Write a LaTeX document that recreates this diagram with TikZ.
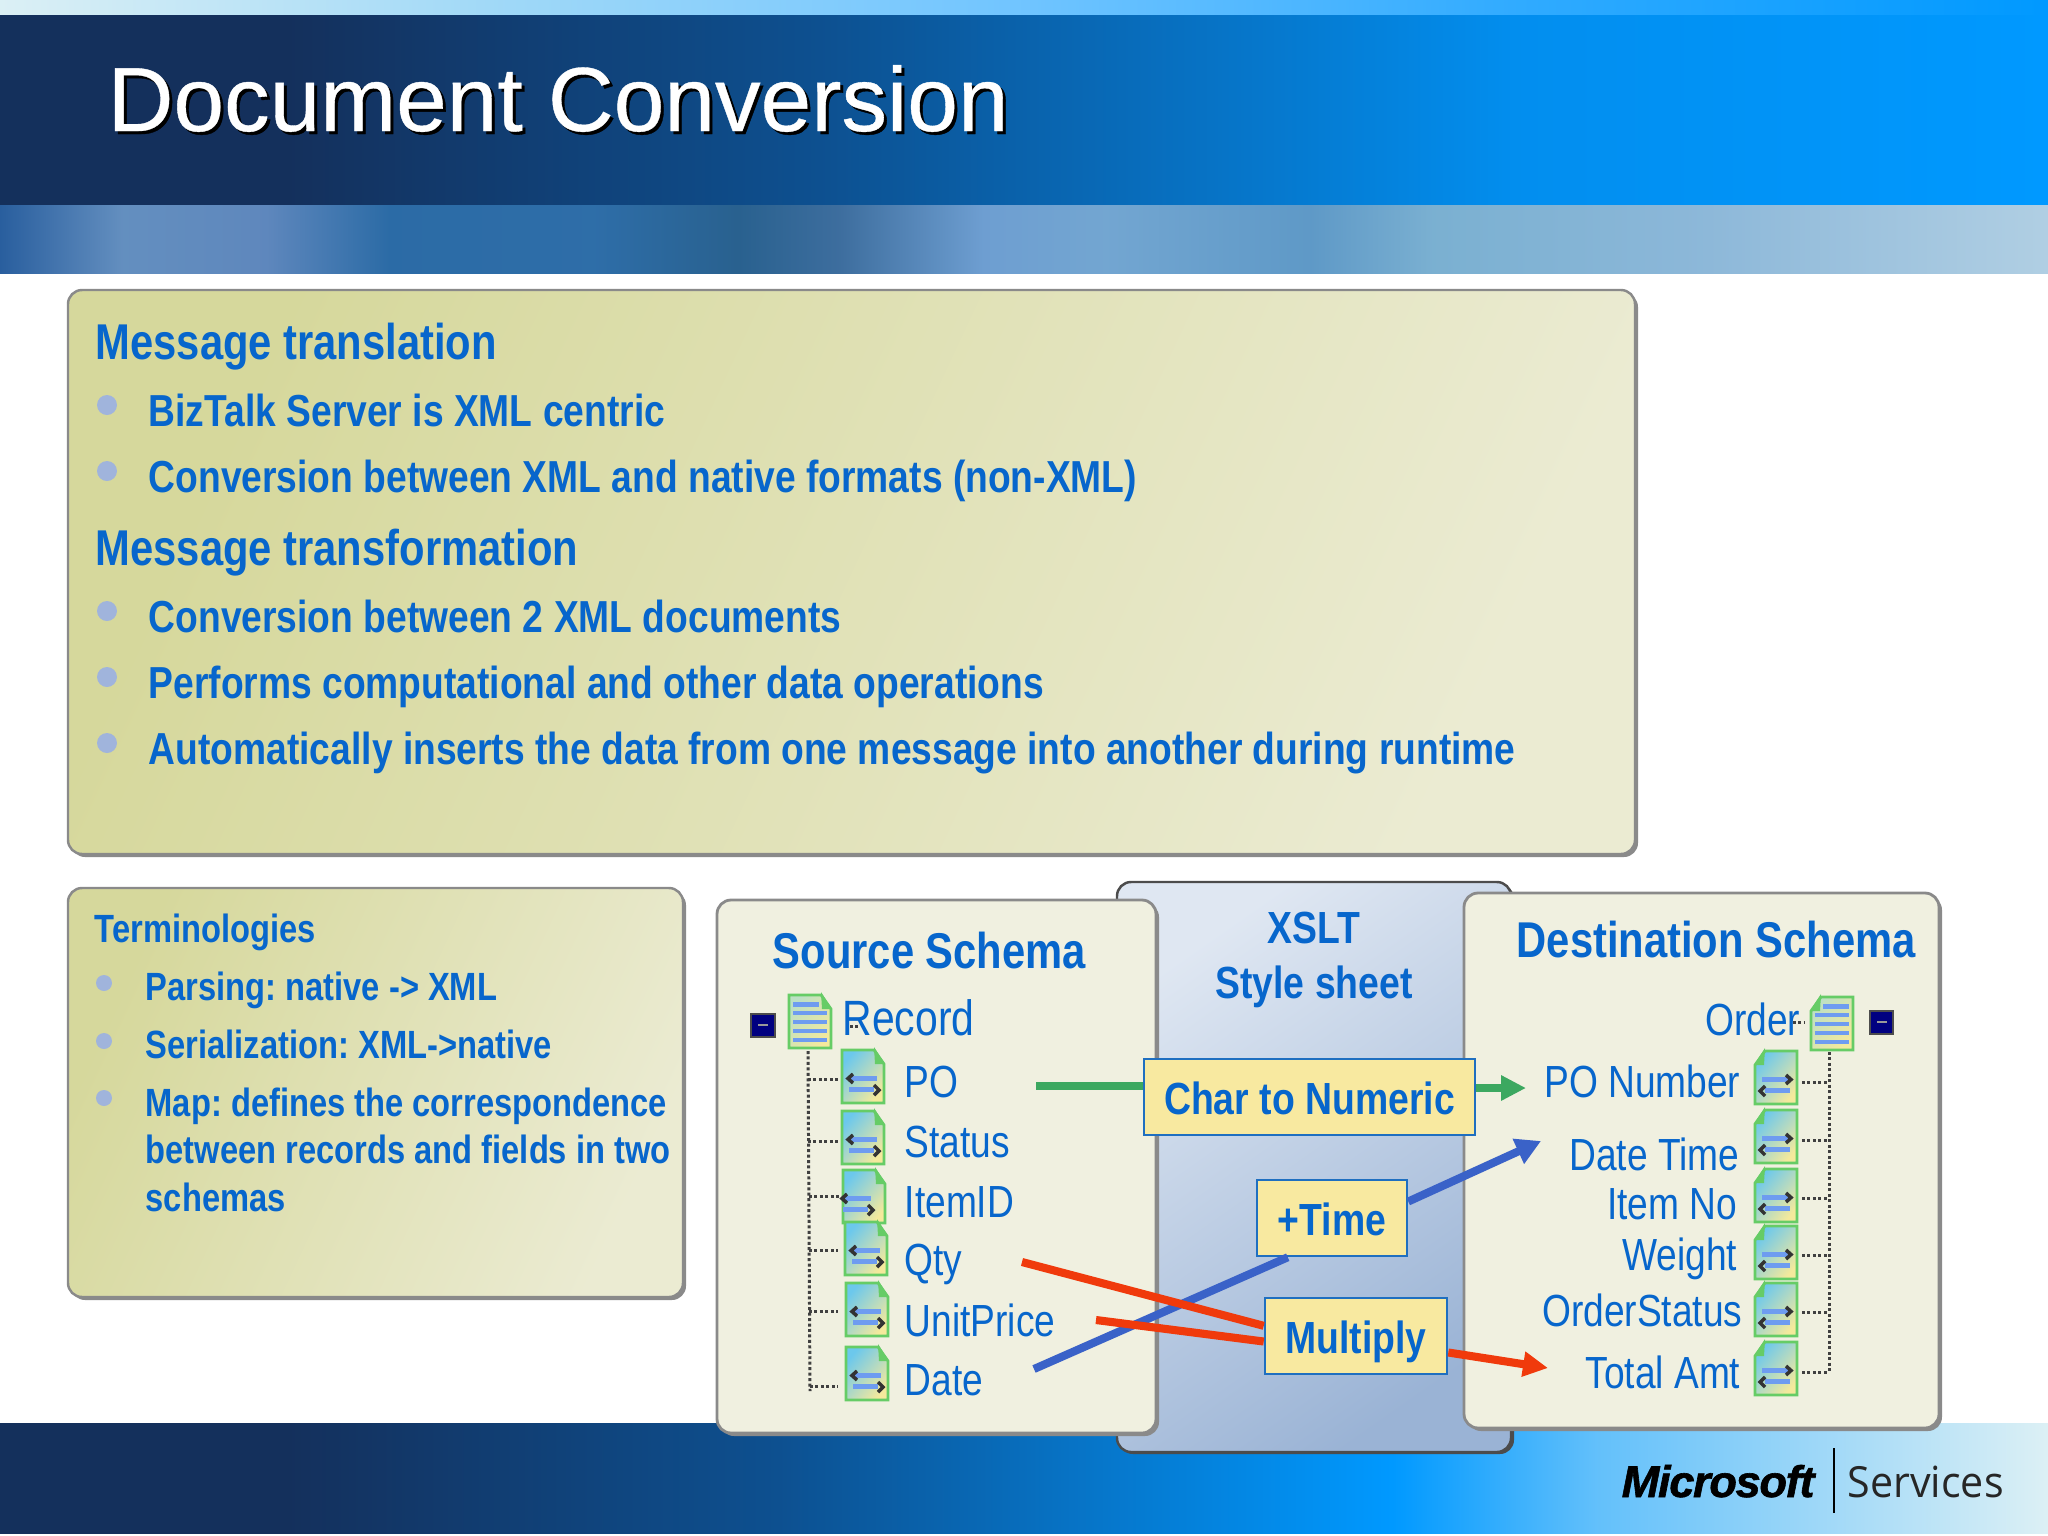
\documentclass[tikz,border=0pt]{standalone}
\usepackage{fontspec}
\usepackage{tikz}
\usetikzlibrary{arrows.meta,positioning,calc}
\setmainfont{Liberation Sans}
\frenchspacing
\newfontfamily\titlefam[FakeBold=0.4]{Liberation Sans}
\newfontfamily\boldfam[FakeStretch=0.83]{Liberation Sans}
\newfontfamily\listfam[FakeStretch=0.825]{Liberation Sans}
\newfontfamily\logofam[FakeBold=1.4,FakeStretch=1.02,LetterSpace=-3]{Liberation Sans}
\newfontfamily\servfam[FakeStretch=0.96]{Open Sans}
\definecolor{msblue}{HTML}{0766CC}
\definecolor{navyband}{HTML}{14305C}
\definecolor{midband}{HTML}{0D5090}
\definecolor{skyband}{HTML}{0099FF}
\definecolor{paleband}{HTML}{DCF0F5}
\definecolor{olivea}{HTML}{D6D89C}
\definecolor{oliveb}{HTML}{EBEBD2}
\definecolor{cream}{HTML}{F0F0E0}
\definecolor{panelgray}{HTML}{8A8A8A}
\definecolor{xsltlight}{HTML}{DFE7F2}
\definecolor{xsltdark}{HTML}{9AB3D5}
\definecolor{goldbox}{HTML}{F8E9A0}
\definecolor{goldline}{HTML}{1F6FC0}
\definecolor{iconblue}{HTML}{6CC8EC}
\definecolor{iconyellow}{HTML}{F4E99C}
\definecolor{iconpale}{HTML}{BCE0C4}
\definecolor{icongreen}{HTML}{66CC66}
\definecolor{barblue}{HTML}{6E9CF0}
\definecolor{greenline}{HTML}{3CA860}
\definecolor{blueline}{HTML}{3A62C8}
\definecolor{redline}{HTML}{F03A0C}
\definecolor{bulletblue}{HTML}{A0B4DC}
\pgfdeclarehorizontalshading{topstrip}{100bp}{rgb(0bp)=(.86,.94,.96); rgb(25bp)=(.86,.94,.96); rgb(37bp)=(.63,.85,.97); rgb(50bp)=(.44,.77,1); rgb(62bp)=(.19,.67,1); rgb(75bp)=(0,.6,1); rgb(100bp)=(0,.6,1)}
\pgfdeclarehorizontalshading{titleband}{100bp}{color(0bp)=(navyband); color(32bp)=(navyband); color(45bp)=(midband); color(62bp)=(skyband!85!midband); color(75bp)=(skyband); color(100bp)=(skyband)}
\pgfdeclarehorizontalshading{blotchband}{100bp}{rgb(0bp)=(.16,.37,.62); rgb(25bp)=(.16,.37,.62); rgb(28bp)=(.39,.56,.75); rgb(31.5bp)=(.37,.53,.74); rgb(34.5bp)=(.17,.42,.65); rgb(39.5bp)=(.18,.43,.66); rgb(43bp)=(.16,.38,.56); rgb(45.5bp)=(.24,.43,.62); rgb(49bp)=(.43,.62,.82); rgb(52bp)=(.45,.65,.82); rgb(57bp)=(.37,.60,.78); rgb(60bp)=(.48,.69,.82); rgb(66.5bp)=(.55,.72,.85); rgb(75bp)=(.69,.81,.89); rgb(100bp)=(.69,.81,.89)}
\pgfdeclarehorizontalshading{footband}{100bp}{color(0bp)=(navyband); color(32bp)=(navyband); color(44bp)=(midband); color(59bp)=(skyband); color(64bp)=(skyband!55!paleband); color(75bp)=(paleband); color(100bp)=(paleband)}
\tikzset{
    headtext/.style={inner sep=0pt,anchor=base west,text=msblue,font=\boldfam\bfseries\fontsize{14.3}{17}\selectfont},
    bigitem/.style={inner sep=0pt,anchor=base west,text=msblue,font=\boldfam\bfseries\fontsize{12.75}{15}\selectfont},
    smallitem/.style={inner sep=0pt,anchor=base west,text=msblue,font=\boldfam\bfseries\fontsize{11.2}{13.5}\selectfont},
    srclabel/.style={inner sep=0pt,anchor=base west,text=msblue,font=\listfam\fontsize{12.8}{15}\selectfont},
    dstlabel/.style={inner sep=0pt,anchor=base east,text=msblue,font=\listfam\fontsize{12.8}{15}\selectfont},
    goldnode/.style={draw=goldline,fill=goldbox,line width=0.7pt,inner sep=0pt,text=msblue,text height=10.1pt,text depth=0pt,minimum height=76*0.2845pt,font=\boldfam\bfseries\fontsize{12.8}{15}\selectfont},
    dotline/.style={draw=black!75,line width=0.85pt,dash pattern=on 0.85pt off 0.7pt},
    pics/fieldicon/.style={code={
        \shade[draw=icongreen,line width=0.8pt,left color=iconblue,right color=iconyellow,shading angle=50] (0,0) -- (32,0) -- (42,14) -- (42,53) -- (0,53) -- cycle;
        \fill[icongreen] (32,-3) -- (43,14) -- (33,14) -- cycle;
        \fill[barblue] (7+#1,26) rectangle (35+#1,31);
        \fill[barblue] (7+#1,37) rectangle (32+#1,42);
        \draw[black!80,line width=1pt] (11+#1,24) -- (6+#1,28.5) -- (11+#1,33);
        \draw[black!80,line width=1pt] (32+#1,35) -- (37+#1,40) -- (32+#1,45);
    }},
    pics/fieldicon/.default=0,
    recordicon/.pic={
        \shade[draw=icongreen,line width=0.8pt,left color=iconpale,right color=iconyellow,shading angle=50] (0,0) -- (32,0) -- (42,14) -- (42,53) -- (0,53) -- cycle;
        \fill[icongreen] (32,-3) -- (43,14) -- (33,14) -- cycle;
        \fill[barblue] (4,7) rectangle (30,12);
        \fill[barblue] (4,16) rectangle (38,20);
        \fill[barblue] (4,25) rectangle (38,29);
        \fill[barblue] (4,34) rectangle (38,38);
        \fill[barblue] (4,43) rectangle (38,47);
    }
}
\begin{document}
\begin{tikzpicture}[x=0.01cm,y=-0.01cm]
    \useasboundingbox (0,0) rectangle (2048,1536);
    \shade[shading=topstrip] (0,0) rectangle (2048,15);
    \shade[shading=titleband] (0,15) rectangle (2048,205);
    \shade[shading=blotchband] (0,205) rectangle (2048,273);
    \shade[shading=footband] (0,1423) rectangle (2048,1533);

    \node[inner sep=0pt,anchor=base west,text=black,font=\titlefam\fontsize{25.9}{30}\selectfont] (titleshadow) at (110,134) {Document Conversion};
    \node[inner sep=0pt,anchor=base west,text=white,font=\titlefam\fontsize{25.9}{30}\selectfont] (title) at (107,131) {Document Conversion};

    \fill[panelgray] [rounded corners=4.0] (71,293) rectangle (1638,857);
    \shade[draw=panelgray,line width=0.7pt,left color=olivea,right color=oliveb,shading angle=65] [rounded corners=4.0] (68,290) rectangle (1635,854);
    \node[headtext] (msgtrans) at (95,359) {Message translation};
    \fill[bulletblue] (107,405) circle (10);
    \node[bigitem] (biztalk) at (148,426) {BizTalk Server is XML centric};
    \fill[bulletblue] (107,471) circle (10);
    \node[bigitem] (native) at (148,492) {Conversion between XML and native formats (non-XML)};
    \node[headtext] (msgform) at (95,565) {Message transformation};
    \fill[bulletblue] (107,611) circle (10);
    \node[bigitem] (xmldocs) at (148,632) {Conversion between 2 XML documents};
    \fill[bulletblue] (107,677) circle (10);
    \node[bigitem] (compute) at (148,698) {Performs computational and other data operations};
    \fill[bulletblue] (107,743) circle (10);
    \node[bigitem] (inserts) at (148,764) {Automatically inserts the data from one message into another during runtime};

    \fill[panelgray] [rounded corners=4.0] (71,891) rectangle (686,1300);
    \shade[draw=panelgray,line width=0.7pt,left color=olivea,right color=oliveb,shading angle=65] [rounded corners=4.0] (68,888) rectangle (683,1297);
    \node[smallitem] (terms) at (94,942) {Terminologies};
    \fill[bulletblue] (104,983) circle (8);
    \node[smallitem] (parsing) at (145,1000) {Parsing: native -> XML};
    \fill[bulletblue] (104,1041) circle (8);
    \node[smallitem] (serial) at (145,1058) {Serialization: XML->native};
    \fill[bulletblue] (104,1098) circle (8);
    \node[smallitem] (mapline) at (145,1116) {Map: defines the correspondence};
    \node[smallitem] (mapnext) at (145,1163) {between records and fields in two};
    \node[smallitem] (maplast) at (145,1211) {schemas};

    \fill[black!70] [rounded corners=4.0] (1119,884) rectangle (1514,1454);
    \shade[draw=black!70,line width=0.7pt,left color=xsltlight,right color=xsltdark,shading angle=35] [rounded corners=4.0] (1117,882) rectangle (1511,1452);
    \node[inner sep=0pt,anchor=base,text=msblue,font=\boldfam\bfseries\fontsize{12.8}{15}\selectfont] (xslt) at (1314,943) {XSLT};
    \node[inner sep=0pt,anchor=base,text=msblue,font=\boldfam\bfseries\fontsize{12.8}{15}\selectfont] (sheet) at (1314,998) {Style sheet};

    \fill[panelgray] [rounded corners=4.0] (720,903) rectangle (1159,1436);
    \draw[panelgray,fill=cream,line width=0.8pt] [rounded corners=4.0] (717,900) rectangle (1156,1433);
    \node[headtext] (source) at (772,968) {Source Schema};
    \draw[black!70,fill=blue!50!black,line width=0.6pt] (751,1014) rectangle (775,1037);
    \draw[black!40,line width=0.5pt] (758,1025) -- (768,1025);
    \pic at (789,995) {recordicon};
    \node[srclabel,font=\listfam\fontsize{14.1}{16}\selectfont] (record) at (842,1035) {Record};
    \draw[dotline] (808,1051) -- (810,1391);
    \draw[dotline] (850,1026) -- (858,1026);
    \draw[dotline] (808,1079) -- (838,1079);
    \draw[dotline] (808,1141) -- (838,1141);
    \draw[dotline] (809,1196) -- (843,1196);
    \draw[dotline] (809,1250) -- (838,1250);
    \draw[dotline] (809,1311) -- (838,1311);
    \draw[dotline] (810,1386) -- (838,1386);
    \pic at (842,1050) {fieldicon};
    \pic at (842,1111) {fieldicon};
    \pic at (843,1170) {fieldicon=-7};
    \pic at (845,1222) {fieldicon};
    \pic at (846,1283) {fieldicon};
    \pic at (846,1347) {fieldicon};
    \node[srclabel] (po) at (904,1097) {PO};
    \node[srclabel] (status) at (904,1157) {Status};
    \node[srclabel] (itemid) at (904,1217) {ItemID};
    \node[srclabel] (qty) at (904,1275) {Qty};
    \node[srclabel] (unitprice) at (904,1336) {UnitPrice};
    \node[srclabel] (date) at (904,1395) {Date};

    \fill[panelgray] [rounded corners=4.0] (1467,896) rectangle (1942,1431);
    \draw[panelgray,fill=cream,line width=0.8pt] [rounded corners=4.0] (1464,893) rectangle (1939,1428);
    \node[headtext] (dest) at (1516,957) {Destination Schema};
    \draw[black!70,fill=blue!50!black,line width=0.6pt] (1870,1011) rectangle (1893,1034);
    \draw[black!40,line width=0.5pt] (1877,1022) -- (1887,1022);
    \pic[xscale=-1] at (1853,997) {recordicon};
    \node[dstlabel] (order) at (1801,1035) {Order};
    \draw[dotline] (1829,1052) -- (1829,1372);
    \draw[dotline] (1793,1022) -- (1804,1022);
    \draw[dotline] (1802,1082) -- (1829,1082);
    \draw[dotline] (1802,1140) -- (1829,1140);
    \draw[dotline] (1802,1198) -- (1829,1198);
    \draw[dotline] (1802,1255) -- (1829,1255);
    \draw[dotline] (1802,1312) -- (1829,1312);
    \draw[dotline] (1802,1372) -- (1829,1372);
    \pic[xscale=-1] at (1797,1051) {fieldicon};
    \pic[xscale=-1] at (1797,1110) {fieldicon};
    \pic[xscale=-1] at (1797,1169) {fieldicon};
    \pic[xscale=-1] at (1797,1226) {fieldicon};
    \pic[xscale=-1] at (1797,1283) {fieldicon};
    \pic[xscale=-1] at (1797,1342) {fieldicon};
    \node[dstlabel] (ponumber) at (1741,1097) {PO Number};
    \node[dstlabel] (datetime) at (1740,1170) {Date Time};
    \node[dstlabel] (itemno) at (1738,1219) {Item No};
    \node[dstlabel] (weight) at (1738,1270) {Weight};
    \node[dstlabel] (orderstatus) at (1743,1326) {OrderStatus};
    \node[dstlabel] (totalamt) at (1741,1388) {Total Amt};

    \coordinate (greenfree) at (1036,1086);
    \coordinate (greentip) at (1526,1088);
    \coordinate (bluefree) at (1034,1369);
    \coordinate (bluetip) at (1541,1141);
    \coordinate (redqty) at (1022,1262);
    \coordinate (redprice) at (1096,1320);
    \coordinate (redtip) at (1548,1368);

    \node[goldnode,minimum width=331*0.2845pt] (charbox) at (1309.5,1097) {Char to Numeric};
    \node[goldnode,minimum width=150*0.2845pt] (timebox) at (1332,1218) {+Time};
    \node[goldnode,minimum width=182*0.2845pt] (multbox) at (1356,1336) {Multiply};

    \draw[greenline,line width=2.3pt] (greenfree) -- (greenfree -| charbox.west);
    \draw[greenline,line width=2.3pt,-{Triangle[length=7.1pt,width=6.8pt]}] (greentip -| charbox.east) -- (greentip);
    \draw[blueline,line width=2.3pt] (bluefree) -- ($(timebox.south west)!0.21!(timebox.south east)$);
    \draw[blueline,line width=2.3pt,-{Triangle[length=7.1pt,width=7.4pt]}] ($(timebox.north east)!0.29!(timebox.south east)$) -- (bluetip);
    \draw[redline,line width=2.3pt] (redqty) -- ($(multbox.north west)!0.37!(multbox.south west)$);
    \draw[redline,line width=2.3pt] (redprice) -- ($(multbox.north west)!0.57!(multbox.south west)$);
    \draw[redline,line width=2.3pt,-{Triangle[length=7.1pt,width=6.8pt]}] ($(multbox.north east)!0.71!(multbox.south east)$) -- (redtip);

    \node[inner sep=0pt,anchor=base west,text=black,font=\logofam\bfseries\itshape\fontsize{12.6}{15}\selectfont] (microsoft) at (1621,1497) {Microsoft};
    \coordinate (logotop) at (1834,1448);
    \coordinate (logobot) at (1834,1513);
    \draw[black,line width=0.5pt] (logotop) -- (logobot);
    \node[inner sep=0pt,anchor=base west,text=black!85,font=\servfam\fontsize{12.2}{14}\selectfont] (services) at (1847,1497) {Services};
\end{tikzpicture}
\end{document}
